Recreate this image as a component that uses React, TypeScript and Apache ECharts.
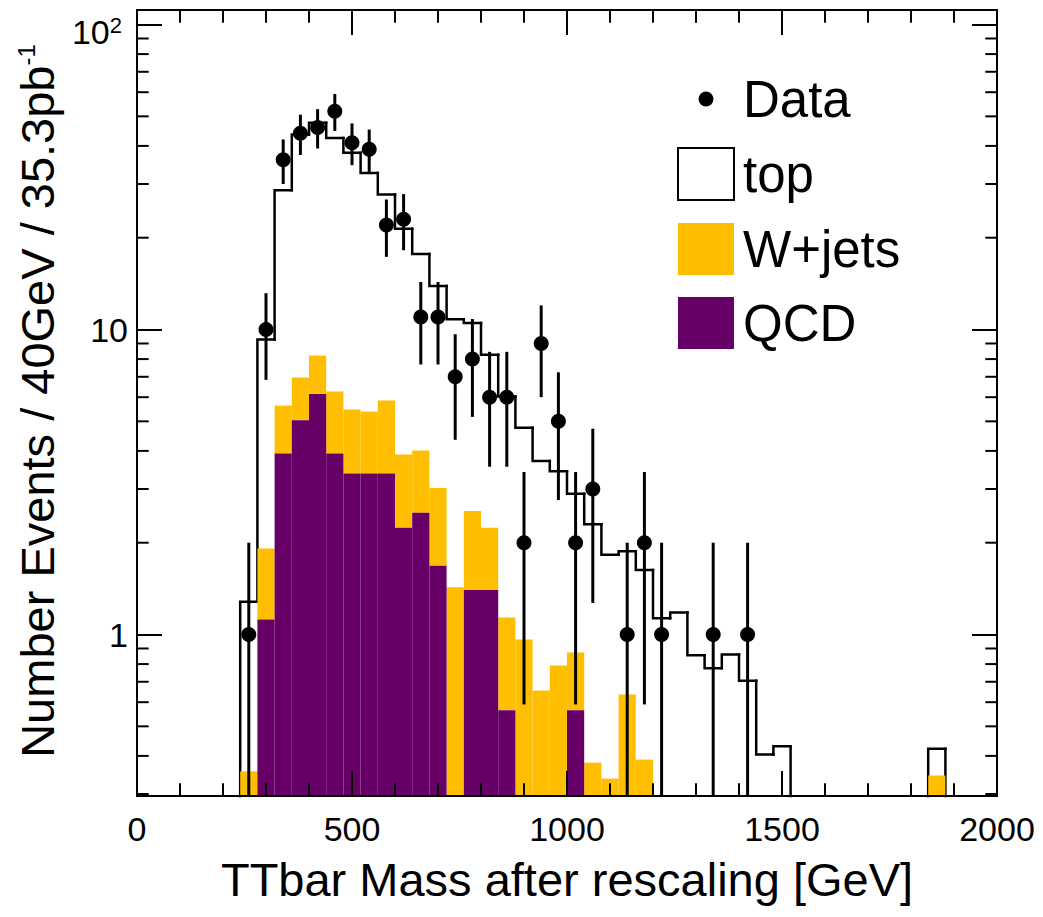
import React, { useEffect, useRef } from "react";
import * as echarts from "echarts";

const FONT = "'Liberation Sans', Arial, Helvetica, sans-serif";
const ORANGE = "#FFBF00";
const PURPLE = "#660066";
const Y_MIN = 0.2955;
const Y_MAX = 111.6;
const X_MIN = 0;
const X_MAX = 2000;
const BIN_WIDTH = 40;

// lower edges of the 40 GeV bins
const binLow = [
  0, 40, 80, 120, 160, 200, 240, 280, 320, 360, 400, 440, 480, 520, 560, 600, 640, 680, 720, 760,
  800, 840, 880, 920, 960, 1000, 1040, 1080, 1120, 1160, 1200, 1240, 1280, 1320, 1360, 1400, 1440,
  1480, 1520, 1560, 1600, 1640, 1680, 1720, 1760, 1800, 1840, 1880, 1920, 1960,
];

// per-process contributions (stacked: QCD, W+jets, top)
const topMC = [
  0, 0, 0, 0, 0, 0,
  0.924, 7.36, 22.97, 36.64, 39.38, 36.24, 32.53, 27.21, 21.85, 17.51,
  13.69, 10.88, 9.37, 7.96, 6.02, 4.9, 3.8, 3.05, 2.64, 2.02,
  1.92, 1.49, 1.24, 1.24, 1.13, 1.18, 0.855, 0.775, 0.86, 0.705,
  0.404, 0.43,
  0, 0, 0, 0, 0, 0, 0, 0,
  0.077, 0, 0, 0,
];
const wjetsMC = [
  0, 0, 0, 0, 0, 0,
  0.356, 0.794, 1.71, 1.92, 2.07, 2.34, 2.1, 2.02, 2.48, 1.65,
  1.5, 1.34, 1.43, 1.14, 0.84, 0.572, 0.963, 0.655, 0.791, 0.308,
  0.38, 0.337, 0.636, 0.389,
  0, 0, 0, 0, 0, 0, 0, 0, 0, 0, 0, 0, 0, 0, 0, 0,
  0.345, 0, 0, 0,
];
const qcdMC = [
  0, 0, 0, 0, 0, 0,
  0, 1.12, 3.92, 5.04, 6.15, 3.92, 3.37, 3.37, 3.37, 2.24,
  2.51, 1.68, 0, 1.4, 1.4, 0.565, 0, 0, 0, 0.565,
  0, 0, 0, 0, 0, 0, 0, 0, 0, 0, 0, 0, 0, 0, 0, 0, 0, 0, 0, 0, 0, 0, 0, 0,
];
const dataCounts = [
  0, 0, 0, 0, 0, 0,
  1, 10, 36, 44, 46, 52, 41, 39, 22, 23,
  11, 11, 7, 8, 6, 6, 2, 9, 5, 2,
  3, 0, 1, 2, 1, 0, 0, 1, 0, 1,
  0, 0, 0, 0, 0, 0, 0, 0, 0, 0, 0, 0, 0, 0,
];
const dataErrors = [
  0, 0, 0, 0, 0, 0,
  1, 3.16, 6, 6.63, 6.78, 7.21, 6.4, 6.24, 4.69, 4.8,
  3.32, 3.32, 2.65, 2.83, 2.45, 2.45, 1.41, 3, 2.24, 1.41,
  1.73, 0, 1, 1.41, 1, 0, 0, 1, 0, 1,
  0, 0, 0, 0, 0, 0, 0, 0, 0, 0, 0, 0, 0, 0,
];

const yMinorTicks = [0.3, 0.4, 0.5, 0.6, 0.7, 0.8, 0.9, 2, 3, 4, 5, 6, 7, 8, 9, 20, 30, 40, 50, 60, 70, 80, 90];
const legendNames = ["Data", "top", "W+jets", "QCD"];

function buildOption() {
  const stackW = qcdMC.map((q, i) => q + wjetsMC[i]);
  const stackTotal = stackW.map((s, i) => s + topMC[i]);

  const outlineData = binLow.map((lo, i) => {
    const cur = stackTotal[i];
    const prev = i > 0 ? stackTotal[i - 1] : 0;
    return [lo, lo + BIN_WIDTH, Math.max(cur, Y_MIN), Math.max(prev, Y_MIN), cur, prev];
  });
  const wData: number[][] = [];
  const qData: number[][] = [];
  binLow.forEach((lo, i) => {
    if (wjetsMC[i] > 0) wData.push([lo, lo + BIN_WIDTH, Math.max(qcdMC[i], Y_MIN), stackW[i]]);
    if (qcdMC[i] > 0) qData.push([lo, lo + BIN_WIDTH, Y_MIN, qcdMC[i]]);
  });
  const points: number[][] = [];
  const errs: number[][] = [];
  binLow.forEach((lo, i) => {
    if (dataCounts[i] > 0) {
      const c = lo + BIN_WIDTH / 2;
      points.push([c, dataCounts[i]]);
      errs.push([c, Math.max(dataCounts[i] - dataErrors[i], Y_MIN), dataCounts[i] + dataErrors[i]]);
    }
  });

  const rectRender = (color: string) => (params: any, api: any) => {
    const p0 = api.coord([api.value(0), api.value(3)]);
    const p1 = api.coord([api.value(1), api.value(2)]);
    return {
      type: "rect",
      shape: { x: p0[0], y: p0[1], width: p1[0] - p0[0], height: p1[1] - p0[1] },
      style: { fill: color },
    };
  };

  const axisLineStyle = { color: "#000", width: 2 };
  const tickStyle = { color: "#000", width: 2 };

  const xBase = {
    type: "value",
    min: X_MIN,
    max: X_MAX,
    interval: 500,
    z: 10,
    splitLine: { show: false },
    axisLine: { show: true, onZero: false, lineStyle: axisLineStyle },
    axisTick: { show: true, inside: true, length: 25, lineStyle: tickStyle },
    minorTick: { show: true, splitNumber: 5, length: 12.7, lineStyle: tickStyle },
  };
  const yBase = {
    type: "log",
    logBase: 10,
    min: Y_MIN,
    max: Y_MAX,
    z: 10,
    splitLine: { show: false },
    axisLine: { show: true, onZero: false, lineStyle: axisLineStyle },
    axisTick: { show: true, inside: true, length: 25, lineStyle: tickStyle },
  };

  return {
    animation: false,
    backgroundColor: "#fff",
    textStyle: { fontFamily: FONT },
    grid: { left: 137, right: 46, top: 10, bottom: 121, containLabel: false, outerBoundsMode: "none" },
    legend: {
      orient: "vertical",
      left: 677,
      top: 73,
      padding: 0,
      itemWidth: 56,
      itemHeight: 52,
      itemGap: 22,
      selectedMode: false,
      textStyle: { fontSize: 51, color: "#000", fontFamily: FONT, padding: [0, 0, 0, 4] },
      data: [
        {
          name: legendNames[0],
          icon: "path://M0 0M56 52M20.5 26a7.5 7.5 0 1 0 15 0a7.5 7.5 0 1 0 -15 0Z",
          itemStyle: { color: "#000", borderWidth: 0, opacity: 1 },
        },
        { name: legendNames[1], icon: "rect", itemStyle: { color: "#fff", borderColor: "#000", borderWidth: 2 } },
        { name: legendNames[2], icon: "rect", itemStyle: { color: ORANGE, borderWidth: 0 } },
        { name: legendNames[3], icon: "rect", itemStyle: { color: PURPLE, borderWidth: 0 } },
      ],
    },
    xAxis: [
      {
        ...xBase,
        position: "bottom",
        name: "TTbar Mass after rescaling [GeV]",
        nameLocation: "middle",
        nameGap: 60,
        nameTextStyle: { fontSize: 47, color: "#000", fontFamily: FONT },
        axisLabel: {
          show: true,
          fontSize: 34,
          color: "#000",
          margin: 16,
          fontFamily: FONT,
          formatter: (v: number) => String(v),
        },
      },
      { ...xBase, position: "top", axisLabel: { show: false } },
    ],
    yAxis: [
      {
        ...yBase,
        position: "left",
        name: "{m|Number Events / 40GeV / 35.3pb}{s|-1}",
        nameLocation: "middle",
        nameRotate: 90,
        nameGap: 72,
        nameTextStyle: {
          color: "#000",
          fontFamily: FONT,
          padding: [0, 0, 0, 4],
          rich: {
            m: { fontSize: 47, fontFamily: FONT, color: "#000" },
            s: { fontSize: 24, fontFamily: FONT, color: "#000", verticalAlign: "top" },
          },
        },
        axisLabel: {
          show: true,
          fontSize: 34,
          color: "#000",
          margin: 9,
          fontFamily: FONT,
          showMinLabel: false,
          showMaxLabel: false,
          formatter: (v: number) => {
            const e = Math.log10(v);
            const r = Math.round(e);
            if (Math.abs(e - r) > 1e-6) return "";
            if (r === 0) return "{n|1}";
            if (r === 1) return "{n|10}";
            return "{b|10}{s|" + r + "}";
          },
          rich: {
            n: { fontSize: 34, fontFamily: FONT, color: "#000" },
            b: { fontSize: 34, fontFamily: FONT, color: "#000", padding: [14, 0, 0, 0] },
            s: { fontSize: 22, fontFamily: FONT, color: "#000", padding: [14, 6, 0, 0], verticalAlign: "top" },
          },
        },
      },
      { ...yBase, position: "right", axisLabel: { show: false } },
    ],
    series: [
      {
        name: "top",
        type: "custom",
        xAxisIndex: 0,
        yAxisIndex: 0,
        z: 2,
        silent: true,
        itemStyle: { color: "#fff", borderColor: "#000" },
        encode: { x: [0, 1], y: [2, 3] },
        data: outlineData,
        renderItem: (params: any, api: any) => {
          const lo = api.value(0);
          const hi = api.value(1);
          const yc = api.value(2);
          const yp = api.value(3);
          const cur = api.value(4);
          const prev = api.value(5);
          if (cur <= 0 && prev <= 0) return null;
          const a = api.coord([lo, yp]);
          const b = api.coord([lo, yc]);
          const c = api.coord([hi, yc]);
          const pts = cur > 0 ? [a, b, c] : [a, b];
          return {
            type: "polyline",
            shape: { points: pts },
            style: { stroke: "#000", lineWidth: 2.5, fill: null, lineJoin: "miter", lineCap: "square" },
          };
        },
      },
      {
        name: "W+jets",
        type: "custom",
        z: 3,
        silent: true,
        itemStyle: { color: ORANGE },
        encode: { x: [0, 1], y: [2, 3] },
        data: wData,
        renderItem: rectRender(ORANGE),
      },
      {
        name: "QCD",
        type: "custom",
        z: 4,
        silent: true,
        itemStyle: { color: PURPLE },
        encode: { x: [0, 1], y: [2, 3] },
        data: qData,
        renderItem: rectRender(PURPLE),
      },
      {
        name: "Data errors",
        type: "custom",
        z: 5,
        silent: true,
        encode: { x: 0, y: [1, 2] },
        data: errs,
        renderItem: (params: any, api: any) => {
          const lo = api.coord([api.value(0), api.value(1)]);
          const hi = api.coord([api.value(0), api.value(2)]);
          return {
            type: "line",
            shape: { x1: lo[0], y1: lo[1], x2: hi[0], y2: hi[1] },
            style: { stroke: "#000", lineWidth: 3 },
          };
        },
      },
      {
        name: "Data",
        type: "scatter",
        z: 6,
        silent: true,
        symbol: "circle",
        symbolSize: 15,
        itemStyle: { color: "#000", opacity: 1 },
        data: points,
      },
      {
        name: "y minor ticks",
        type: "custom",
        z: 20,
        silent: true,
        encode: { x: 0, y: 1 },
        data: yMinorTicks.map((v) => [X_MIN, v]),
        renderItem: (params: any, api: any) => {
          const l = api.coord([X_MIN, api.value(1)]);
          const r = api.coord([X_MAX, api.value(1)]);
          return {
            type: "group",
            children: [
              { type: "line", shape: { x1: l[0], y1: l[1], x2: l[0] + 11.7, y2: l[1] }, style: { stroke: "#000", lineWidth: 2 } },
              { type: "line", shape: { x1: r[0], y1: r[1], x2: r[0] - 11.7, y2: r[1] }, style: { stroke: "#000", lineWidth: 2 } },
            ],
          };
        },
      },
    ],
  };
}

export default function App() {
  const ref = useRef<HTMLDivElement>(null);
  useEffect(() => {
    document.body.style.margin = "0";
    const chart = echarts.init(ref.current as HTMLDivElement, null, { renderer: "svg" });
    chart.setOption(buildOption() as any);
    return () => chart.dispose();
  }, []);
  return (
    <div
      ref={ref}
      style={{ position: "absolute", left: 0, top: 0, width: 1043, height: 917, background: "#fff" }}
    />
  );
}
